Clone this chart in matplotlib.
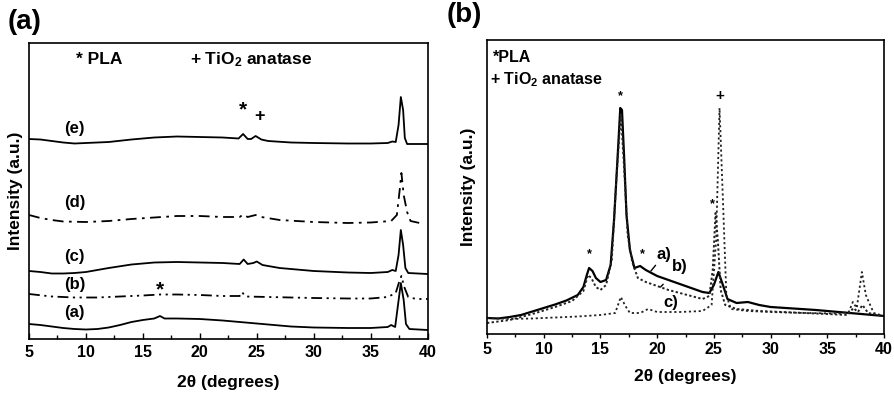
import matplotlib
matplotlib.use("Agg")
import matplotlib.pyplot as plt

plt.rcParams['font.family'] = ['Liberation Sans', 'DejaVu Sans']
plt.rcParams['font.weight'] = 'bold'
plt.rcParams['mathtext.fontset'] = 'custom'
plt.rcParams['mathtext.rm'] = 'Liberation Sans:bold'
plt.rcParams['mathtext.it'] = 'Liberation Sans:bold'
plt.rcParams['mathtext.bf'] = 'Liberation Sans:bold'

# ---------------- Panel (a) data ----------------
a_e_x = [5, 6, 7, 8, 9, 10, 12, 14, 16, 18, 20, 22, 23.4, 23.8, 24.2, 24.5, 24.9, 25.4, 26, 28, 30, 33, 35, 36.5, 36.9, 37.2, 37.45, 37.65, 37.85, 38.0, 38.2, 39, 40]
a_e_y = [200, 199.5, 198, 196.5, 195.5, 196, 197, 199.5, 201.5, 202.5, 202, 201.5, 200.5, 205, 200, 200, 203, 199.5, 198, 196.5, 196, 195.5, 195.5, 196, 197.5, 197, 214, 242, 229, 201, 195, 195, 195]

a_d_x = [5, 6, 7, 8, 10, 12, 14, 16, 18, 20, 22, 23.5, 23.8, 24.2, 24.9, 25.4, 27, 30, 33, 35, 36.8, 37.3, 37.55, 37.7, 37.9, 38.2, 38.5, 39.3]
a_d_y = [124, 121, 119, 117.5, 117, 118, 120, 121.5, 123, 123, 122, 122, 124.5, 122, 124, 122, 119, 117, 116, 116.5, 118, 124, 149, 166, 144, 127, 118, 116]

a_c_x = [5, 6, 7, 8, 9, 10, 12, 14, 16, 18, 20, 22, 23.5, 23.85, 24.2, 24.7, 25.0, 25.5, 27, 30, 33, 35, 36.5, 36.9, 37.2, 37.45, 37.65, 37.85, 38.05, 38.3, 40]
a_c_y = [68, 67, 65.5, 65.5, 66, 67, 71, 74.5, 76.5, 77, 76.5, 76, 75, 79.5, 75, 76, 77.5, 74, 71, 68, 66.5, 66, 67, 69, 68, 84, 109, 94, 71, 66, 65]

a_b_x = [5, 7, 9, 11, 13, 15, 16.5, 18, 20, 22, 23.5, 23.7, 24.0, 26, 30, 33, 35, 36.5, 37.2, 37.5, 37.7, 37.95, 38.3, 39, 40]
a_b_y = [45, 42.5, 41.5, 41.5, 42.5, 43.5, 44.5, 44.5, 44, 43, 43, 47, 42.5, 42, 41, 40.5, 40.5, 42, 46, 57, 63, 52, 42, 40, 40]

a_a_x = [5, 6, 7, 8, 9, 10, 11, 12, 13, 14, 15, 16, 16.5, 16.9, 18, 20, 22, 24, 26, 28, 30, 33, 35, 36.5, 36.8, 37.15, 37.4, 37.65, 37.9, 38.1, 38.4, 40]
a_a_y = [15, 14, 12.5, 11, 10, 9.5, 10, 11.5, 14, 17, 19, 20.5, 23, 20.5, 20.5, 20, 18.5, 16.5, 14.5, 12.5, 11.5, 11, 11, 12, 14, 12, 34, 56, 39, 15, 10, 9]

a_labels = ['(e)', '(d)', '(c)', '(b)', '(a)']
a_label_y = [211, 136, 82, 54, 26]

# ---------------- Panel (b) data ----------------
b_a_x = [5, 6, 7, 8, 9, 10, 11, 12, 13, 13.5, 13.8, 14.0, 14.3, 14.6, 15.0, 15.5, 15.9, 16.2, 16.5, 16.75, 16.9, 17.1, 17.3, 17.6, 18.0, 18.5, 19.0, 20, 21, 22, 23, 24, 24.6, 25.0, 25.4, 25.8, 26.2, 27, 28, 29, 30, 32, 34, 36, 38, 40]
b_a_y = [16, 15.5, 17, 19, 22.5, 26, 29.5, 33.5, 39, 47, 59, 66, 63, 56, 52, 54, 69, 114, 174, 226, 224, 174, 119, 84, 66, 68, 64, 58, 54, 50, 46, 42, 41, 49, 62, 49, 35, 31, 32, 29, 27, 25.5, 24, 22, 20, 18]

b_b_x = [5, 7, 9, 11, 12.5, 13.5, 13.9, 14.2, 14.6, 15.0, 15.5, 16.0, 16.4, 16.8, 17.1, 17.4, 17.8, 18.3, 19, 20, 21, 22, 23, 24, 24.6, 24.9, 25.15, 25.35, 25.6, 26, 27, 29, 31, 33, 35, 36.8, 37.3, 37.7, 38.1, 38.6, 40]
b_b_y = [11, 14, 20, 27, 33, 43, 59, 56, 47, 44, 49, 74, 154, 221, 164, 99, 72, 56, 52, 48, 44, 41, 38, 35, 38, 64, 121, 94, 44, 29, 25, 23, 22, 21, 20, 19, 26, 22, 29, 21, 18]

b_c_x = [5, 7, 9, 11, 13, 15, 16.3, 16.8, 17.2, 17.6, 18.5, 19.2, 20, 22, 24, 24.8, 25.2, 25.5, 25.8, 26.1, 26.5, 28, 30, 33, 36, 36.9, 37.25, 37.6, 38.05, 38.4, 38.7, 39.1, 40]
b_c_y = [16, 15, 15.5, 16.5, 17.5, 19, 21, 37, 28, 21, 21, 25, 22, 22, 23, 29, 94, 226, 134, 39, 25, 23, 22, 21, 20.5, 22, 32, 26, 62, 39, 31, 21, 18]

xticks = [5, 10, 15, 20, 25, 30, 35, 40]
minor_ticks = [7.5, 12.5, 17.5, 22.5, 27.5, 32.5, 37.5]

fig = plt.figure(figsize=(8.94, 3.95), dpi=100)

# ---------------- Panel (a) ----------------
axA = fig.add_axes([29/894, 1-339/395, (427.6-29)/894, (339-43)/395])
axA.plot(a_e_x, a_e_y, color='black', lw=1.3)
axA.plot(a_d_x, a_d_y, color='black', lw=1.3, linestyle=(0, (6, 3, 1.5, 3)))
axA.plot(a_c_x, a_c_y, color='black', lw=1.3)
axA.plot(a_b_x, a_b_y, color='black', lw=1.3, linestyle=(0, (6, 2.5, 1.2, 2.5, 1.2, 2.5)))
axA.plot(a_a_x, a_a_y, color='black', lw=1.3)
axA.set_xlim(5, 40)
axA.set_ylim(0, 296)
axA.set_xticks(xticks)
axA.set_xticks(minor_ticks, minor=True)
axA.set_yticks([])
axA.tick_params(axis='x', which='major', direction='in', length=4, width=1, labelsize=11.5, pad=4)
axA.tick_params(axis='x', which='minor', direction='in', length=3, width=1)
for lbl in axA.get_xticklabels():
    lbl.set_fontweight('bold')
for s in axA.spines.values():
    s.set_linewidth(1.2)
for t, y in zip(a_labels, a_label_y):
    axA.text(9.0, y, t, ha='center', va='center', fontsize=12, fontweight='bold')
axA.text(9.1, 279, '* PLA', ha='left', va='center', fontsize=12.5, fontweight='bold')
axA.text(19.1, 279, '+ TiO$_2$ anatase', ha='left', va='center', fontsize=12.5, fontweight='bold')
axA.text(23.8, 229, '*', ha='center', va='center', fontsize=15, fontweight='bold')
axA.text(25.2, 223, '+', ha='center', va='center', fontsize=13, fontweight='bold')
axA.text(16.5, 49, '*', ha='center', va='center', fontsize=15, fontweight='bold')
axA.set_xlabel('2θ (degrees)', fontsize=12.5, fontweight='bold', labelpad=11)
axA.set_ylabel('Intensity (a.u.)', fontsize=12.5, fontweight='bold', labelpad=4)
fig.text(8/894, 1-22/395, '(a)', fontsize=20, fontweight='bold', ha='left', va='center')

# ---------------- Panel (b) ----------------
axB = fig.add_axes([487/894, 1-334/395, (884-487)/894, (334-40)/395])
axB.plot(b_a_x, b_a_y, color='black', lw=1.6)
axB.plot(b_b_x, b_b_y, color='#222222', lw=1.4, linestyle=(0, (1.2, 1.2)))
axB.plot(b_c_x, b_c_y, color='#222222', lw=1.3, linestyle=(0, (1.2, 1.5)))
axB.set_xlim(5, 40)
axB.set_ylim(0, 294)
axB.set_xticks(xticks)
axB.set_xticks(minor_ticks, minor=True)
axB.set_yticks([])
axB.tick_params(axis='x', which='major', direction='out', length=3, width=1, labelsize=11.5, pad=2.5)
axB.tick_params(axis='x', which='minor', direction='out', length=2.5, width=1)
for lbl in axB.get_xticklabels():
    lbl.set_fontweight('bold')
for s in axB.spines.values():
    s.set_linewidth(1.2)
axB.text(5.5, 277, '*PLA', ha='left', va='center', fontsize=11.5, fontweight='bold')
axB.text(5.3, 254, '+ TiO$_2$ anatase', ha='left', va='center', fontsize=11.5, fontweight='bold')
axB.text(16.8, 238, '*', ha='center', va='center', fontsize=9, fontweight='bold')
axB.text(25.5, 238, '+', ha='center', va='center', fontsize=11, fontweight='bold')
axB.text(14.0, 80, '*', ha='center', va='center', fontsize=9, fontweight='bold')
axB.text(18.7, 80, '*', ha='center', va='center', fontsize=9, fontweight='bold')
axB.text(24.85, 130, '*', ha='center', va='center', fontsize=9, fontweight='bold')
axB.annotate('a)', xy=(19.45, 63), xytext=(20.6, 79), ha='center', va='center',
             fontsize=12, fontweight='bold',
             arrowprops=dict(arrowstyle='-', color='black', lw=1, shrinkA=6, shrinkB=0))
axB.annotate('b)', xy=(20.3, 47), xytext=(22.0, 67), ha='center', va='center',
             fontsize=12, fontweight='bold',
             arrowprops=dict(arrowstyle='-', color='black', lw=1, shrinkA=7, shrinkB=0))
axB.text(21.2, 31, 'c)', ha='center', va='center', fontsize=12, fontweight='bold')
axB.set_xlabel('2θ (degrees)', fontsize=12.5, fontweight='bold', labelpad=9)
axB.set_ylabel('Intensity (a.u.)', fontsize=12.5, fontweight='bold', labelpad=8)
fig.text(447/894, 1-15/395, '(b)', fontsize=20, fontweight='bold', ha='left', va='center')

fig.savefig('out.png', dpi=100)
